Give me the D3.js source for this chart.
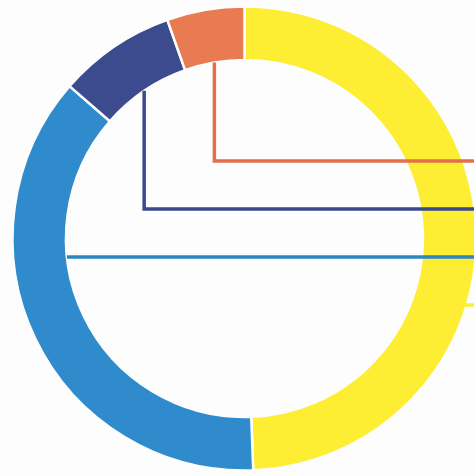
<!DOCTYPE html>
<html>
<head>
<meta charset="utf-8">
<script src="https://cdn.jsdelivr.net/npm/d3@7"></script>
<style>
  html, body { margin: 0; padding: 0; background: #fdfdfd; }
  svg { display: block; }
</style>
</head>
<body>
<div id="chart"></div>
<script>
// ---- data ----
const categories = ["Category A", "Category B", "Category C", "Category D"];
const values = [49.4, 37.0, 8.2, 5.4];
const colors = ["#fdee33", "#2f8bcb", "#3b4b8e", "#e97b52"];
const lineColors = ["#fdee33", "#2c86c6", "#3a4a8d", "#e2714b"];

// ---- layout ----
const W = 474, H = 476;
const cx = 244.5, cy = 238.5;
const outerR = 232, innerR = 178.5;
const labelTop = 161, labelStep = 48;

const svg = d3.select("#chart").append("svg")
  .attr("width", W).attr("height", H);

svg.append("rect").attr("width", W).attr("height", H).attr("fill", "#fdfdfd");

const data = categories.map((c, i) => ({ name: c, value: values[i], color: colors[i], line: lineColors[i], i }));

const pie = d3.pie().sort(null).value(d => d.value);
const arcs = pie(data);
const arc = d3.arc().innerRadius(innerR).outerRadius(outerR);

const g = svg.append("g").attr("transform", `translate(${cx},${cy})`);

g.selectAll("path.slice")
  .data(arcs)
  .join("path")
  .attr("class", "slice")
  .attr("d", arc)
  .attr("fill", d => d.data.color)
  .attr("stroke", "#fdfdfd")
  .attr("stroke-width", 2.5);

// leader lines: labels stacked in reverse order on the right side
const n = arcs.length;
const lineGen = d3.line();
arcs.forEach((a, idx) => {
  const k = n - 1 - idx;           // reverse order
  const ly = labelTop + k * labelStep - cy; // relative y
  const mid = (a.startAngle + a.endAngle) / 2;
  let pts;
  const xEnd = W - cx + 10;
  const midDeg = mid * 180 / Math.PI;
  if (midDeg > 300) {
    // vertical drop from inner edge at the slice's mid angle, then to the right
    const x0 = innerR * Math.sin(mid);
    const y0 = -innerR * Math.cos(mid);
    pts = [[x0, y0], [x0, ly], [xEnd, ly]];
  } else if (midDeg > 180) {
    // horizontal line from the inner edge of the slice
    const x0 = -Math.sqrt(innerR * innerR - ly * ly);
    pts = [[x0, ly], [xEnd, ly]];
  } else {
    // line from the outer edge of the slice to the right
    const x0 = Math.sqrt(Math.max(0, outerR * outerR - ly * ly)) - 4;
    pts = [[x0, ly], [xEnd, ly]];
  }
  g.append("path")
    .attr("d", lineGen(pts))
    .attr("fill", "none")
    .attr("stroke", a.data.line)
    .attr("stroke-width", 3.5)
    .attr("stroke-linejoin", "miter")
    .attr("stroke-linecap", "butt");
});
</script>
</body>
</html>
